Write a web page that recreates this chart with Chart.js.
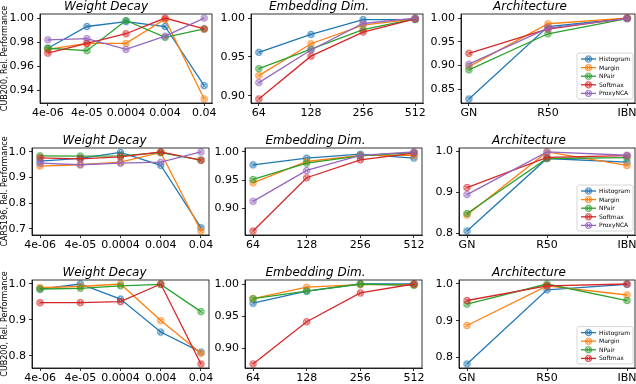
<!DOCTYPE html>
<html>
<head>
<meta charset="utf-8">
<script src="https://cdn.jsdelivr.net/npm/chart.js@4.4.0/dist/chart.umd.min.js"></script>
<style>
  html, body { margin: 0; padding: 0; background: #fff; }
  body { width: 636px; height: 384px; position: relative; overflow: hidden; }
  canvas { position: absolute; }
</style>
</head>
<body>
<script>
// Series names and matplotlib default colours
const seriesNames = ['Histogram', 'Margin', 'NPair', 'Softmax', 'ProxyNCA'];
const seriesColors = ['#1f77b4', '#ff7f0e', '#2ca02c', '#d62728', '#9467bd'];

// Categories
const wdLabels = ['4e-06', '4e-05', '0.0004', '0.004', '0.04'];
const embLabels = ['64', '128', '256', '512'];
const archLabels = ['GN', 'R50', 'IBN'];

// Row 1: CUB200
const cubWeightDecay = [
  [0.975, 0.993, 0.997, 0.993, 0.944],
  [0.974, 0.979, 0.979, 0.999, 0.933],
  [0.975, 0.973, 0.998, 0.984, 0.991],
  [0.971, 0.979, 0.987, 1.000, 0.991],
  [0.982, 0.983, 0.974, 0.985, 1.000]
];
const cubEmbedding = [
  [0.956, 0.979, 0.998, 0.998],
  [0.926, 0.967, 0.991, 0.999],
  [0.935, 0.960, 0.985, 0.999],
  [0.896, 0.951, 0.982, 0.999],
  [0.917, 0.959, 0.993, 1.000]
];
const cubArch = [
  [0.830, 0.982, 0.999],
  [0.898, 0.988, 1.000],
  [0.891, 0.967, 0.999],
  [0.926, 0.977, 1.000],
  [0.903, 0.979, 0.999]
];

// Row 2: CARS196
const carsWeightDecay = [
  [0.964, 0.975, 0.998, 0.948, 0.704],
  [0.945, 0.950, 0.960, 0.998, 0.691],
  [0.985, 0.984, 0.985, 0.997, 0.968],
  [0.977, 0.973, 0.981, 1.000, 0.968],
  [0.956, 0.950, 0.956, 0.960, 1.000]
];
const carsEmbedding = [
  [0.977, 0.989, 0.996, 0.989],
  [0.945, 0.983, 0.994, 0.994],
  [0.951, 0.980, 0.993, 0.999],
  [0.859, 0.954, 0.986, 0.998],
  [0.912, 0.967, 0.994, 1.000]
];
const carsArch = [
  [0.805, 0.982, 0.973],
  [0.844, 0.998, 0.965],
  [0.848, 0.982, 0.984],
  [0.911, 0.985, 0.989],
  [0.894, 0.998, 0.990]
];

// Row 3: CUB200 (no ProxyNCA)
const cub2WeightDecay = [
  [0.986, 1.000, 0.958, 0.866, 0.810],
  [0.990, 0.993, 1.000, 0.898, 0.807],
  [0.986, 0.988, 0.995, 0.999, 0.923],
  [0.948, 0.948, 0.951, 1.000, 0.777]
];
const cub2Embedding = [
  [0.970, 0.989, 1.000, 1.000],
  [0.977, 0.995, 0.999, 0.999],
  [0.977, 0.989, 1.000, 0.998],
  [0.875, 0.941, 0.986, 1.000]
];
const cub2Arch = [
  [0.782, 0.984, 0.999],
  [0.887, 0.995, 0.970],
  [0.945, 1.000, 0.955],
  [0.955, 0.995, 1.000]
];

// Y tick labels per panel
const ticksWd1 = ['0.94', '0.96', '0.98', '1.00'];
const ticksEmb1 = ['0.90', '0.95', '1.00'];
const ticksArch1 = ['0.85', '0.90', '0.95', '1.00'];
const ticksWd2 = ['0.7', '0.8', '0.9', '1.0'];
const ticksEmb2 = ['0.90', '0.95', '1.00'];
const ticksArch2 = ['0.8', '0.9', '1.0'];
const ticksWd3 = ['0.8', '0.9', '1.0'];
const ticksEmb3 = ['0.90', '0.95', '1.00'];
const ticksArch3 = ['0.8', '0.9', '1.0'];

Chart.defaults.font.family = 'DejaVu Sans';
Chart.defaults.color = '#000';

// circle-with-cross marker, one per colour
function markerImage(color) {
  const c = document.createElement('canvas');
  c.width = 9; c.height = 9;
  const g = c.getContext('2d');
  g.lineWidth = 1;
  g.strokeStyle = color;
  g.fillStyle = color + '40';
  g.beginPath();
  g.arc(4.5, 4.5, 3.1, 0, Math.PI * 2);
  g.fill();
  g.stroke();
  g.beginPath();
  g.moveTo(2.7, 2.7); g.lineTo(6.3, 6.3);
  g.moveTo(6.3, 2.7); g.lineTo(2.7, 6.3);
  g.stroke();
  return c;
}
const markers = seriesColors.map(markerImage);

// box round the plot area, like matplotlib spines
const framePlugin = {
  id: 'frame',
  afterDatasetsDraw(chart) {
    const a = chart.chartArea, ctx = chart.ctx;
    ctx.save();
    ctx.strokeStyle = '#000';
    ctx.lineWidth = 0.8;
    ctx.strokeRect(a.left, a.top, a.right - a.left, a.bottom - a.top);
    ctx.restore();
  }
};

// legend in the lower right corner of the plot area
const cornerLegend = {
  id: 'cornerLegend',
  afterDraw(chart, args, opts) {
    if (!opts.show) return;
    const ctx = chart.ctx, a = chart.chartArea;
    const ds = chart.data.datasets;
    const rowH = 8.6, w = 56, h = ds.length * rowH + 3;
    const x0 = a.right - 2 - w, y0 = a.bottom - 4 - h;
    ctx.save();
    ctx.fillStyle = 'rgba(255,255,255,0.85)';
    ctx.strokeStyle = '#cccccc';
    ctx.lineWidth = 0.8;
    ctx.beginPath();
    ctx.roundRect(x0, y0, w, h, 2);
    ctx.fill();
    ctx.stroke();
    ctx.font = '6px "DejaVu Sans"';
    ctx.textBaseline = 'middle';
    ds.forEach((d, i) => {
      const y = y0 + 6 + i * rowH;
      ctx.strokeStyle = d.borderColor;
      ctx.lineWidth = 1.3;
      ctx.beginPath();
      ctx.moveTo(x0 + 4, y);
      ctx.lineTo(x0 + 19, y);
      ctx.stroke();
      ctx.drawImage(d.pointStyle, x0 + 11.5 - 4.5, y - 4.5);
      ctx.fillStyle = '#000';
      ctx.fillText(d.label, x0 + 22, y + 0.5);
    });
    ctx.restore();
  }
};

const TITLE_H = 15, XAXIS_H = 18, RIGHT_PAD = 10;

function makePanel(p) {
  const [fl, ft, fr, fb] = p.frame;
  const yW = p.yTitle ? fl : 36;
  const left = fl - yW;
  const top = ft - TITLE_H;
  const width = yW + (fr - fl) + RIGHT_PAD;
  const height = TITLE_H + (fb - ft) + XAXIS_H;

  const canvas = document.createElement('canvas');
  canvas.width = width; canvas.height = height;
  canvas.style.left = left + 'px';
  canvas.style.top = top + 'px';
  document.body.appendChild(canvas);

  const n = p.labels.length;
  const all = p.series.flat();
  const lo = Math.min(...all), hi = Math.max(...all);
  const pad = (hi - lo) * 0.05;

  const datasets = p.series.map((vals, i) => ({
    label: seriesNames[i],
    data: vals.map((v, j) => ({ x: j, y: v })),
    borderColor: seriesColors[i],
    backgroundColor: seriesColors[i],
    borderWidth: 1.3,
    pointStyle: markers[i],
    pointRadius: 4,
    order: -i,
    tension: 0
  }));

  const tickGrid = { display: true, drawOnChartArea: false, drawTicks: true, tickLength: 3, color: '#000', lineWidth: 0.8 };

  new Chart(canvas, {
    type: 'line',
    data: { datasets },
    plugins: [framePlugin, cornerLegend],
    options: {
      responsive: false,
      animation: false,
      events: [],
      layout: { padding: { top: 0, right: RIGHT_PAD, bottom: 0, left: 0 } },
      plugins: {
        legend: { display: false },
        tooltip: { enabled: false },
        title: {
          display: true,
          text: p.title,
          font: { size: 12, style: 'italic', lineHeight: 1.25, weight: 'normal' },
          padding: 0
        },
        cornerLegend: { show: !!p.legend }
      },
      scales: {
        x: {
          type: 'linear',
          min: -0.05 * (n - 1),
          max: 1.05 * (n - 1),
          afterBuildTicks: s => { s.ticks = p.labels.map((_, i) => ({ value: i })); },
          afterFit: s => { s.height = XAXIS_H; },
          ticks: {
            callback: v => p.labels[Math.round(v)],
            font: { size: 11 },
            padding: 1,
            maxRotation: 0,
            autoSkip: false
          },
          grid: tickGrid,
          border: { display: true, color: '#000', width: 0.8 }
        },
        y: {
          type: 'linear',
          min: lo - pad,
          max: hi + pad,
          afterBuildTicks: s => { s.ticks = p.yTicks.map(t => ({ value: parseFloat(t) })); },
          afterFit: s => { s.width = yW; },
          ticks: {
            callback: (v, i) => p.yTicks[i],
            font: { size: 11 },
            padding: 3
          },
          grid: tickGrid,
          border: { display: true, color: '#000', width: 0.8 },
          title: {
            display: !!p.yTitle,
            text: p.yTitle || '',
            font: { size: 8 },
            padding: 0
          }
        }
      }
    }
  });
}

const rows = [[14, 103], [148, 235], [280, 368]];
const colsRow1 = [[40, 212], [251, 423], [461, 635]];
const colsRow23 = [[32, 209], [245, 422], [459, 635]];
const fr = (c, r) => [c[0], r[0], c[1], r[1]];

const panels = [
  { frame: fr(colsRow1[0], rows[0]), title: 'Weight Decay', labels: wdLabels, series: cubWeightDecay, yTicks: ticksWd1, yTitle: 'CUB200, Rel. Performance' },
  { frame: fr(colsRow1[1], rows[0]), title: 'Embedding Dim.', labels: embLabels, series: cubEmbedding, yTicks: ticksEmb1 },
  { frame: fr(colsRow1[2], rows[0]), title: 'Architecture', labels: archLabels, series: cubArch, yTicks: ticksArch1, legend: true },
  { frame: fr(colsRow23[0], rows[1]), title: 'Weight Decay', labels: wdLabels, series: carsWeightDecay, yTicks: ticksWd2, yTitle: 'CARS196, Rel. Performance' },
  { frame: fr(colsRow23[1], rows[1]), title: 'Embedding Dim.', labels: embLabels, series: carsEmbedding, yTicks: ticksEmb2 },
  { frame: fr(colsRow23[2], rows[1]), title: 'Architecture', labels: archLabels, series: carsArch, yTicks: ticksArch2, legend: true },
  { frame: fr(colsRow23[0], rows[2]), title: 'Weight Decay', labels: wdLabels, series: cub2WeightDecay, yTicks: ticksWd3, yTitle: 'CUB200, Rel. Performance' },
  { frame: fr(colsRow23[1], rows[2]), title: 'Embedding Dim.', labels: embLabels, series: cub2Embedding, yTicks: ticksEmb3 },
  { frame: fr(colsRow23[2], rows[2]), title: 'Architecture', labels: archLabels, series: cub2Arch, yTicks: ticksArch3, legend: true }
];

panels.forEach(makePanel);
</script>
</body>
</html>
